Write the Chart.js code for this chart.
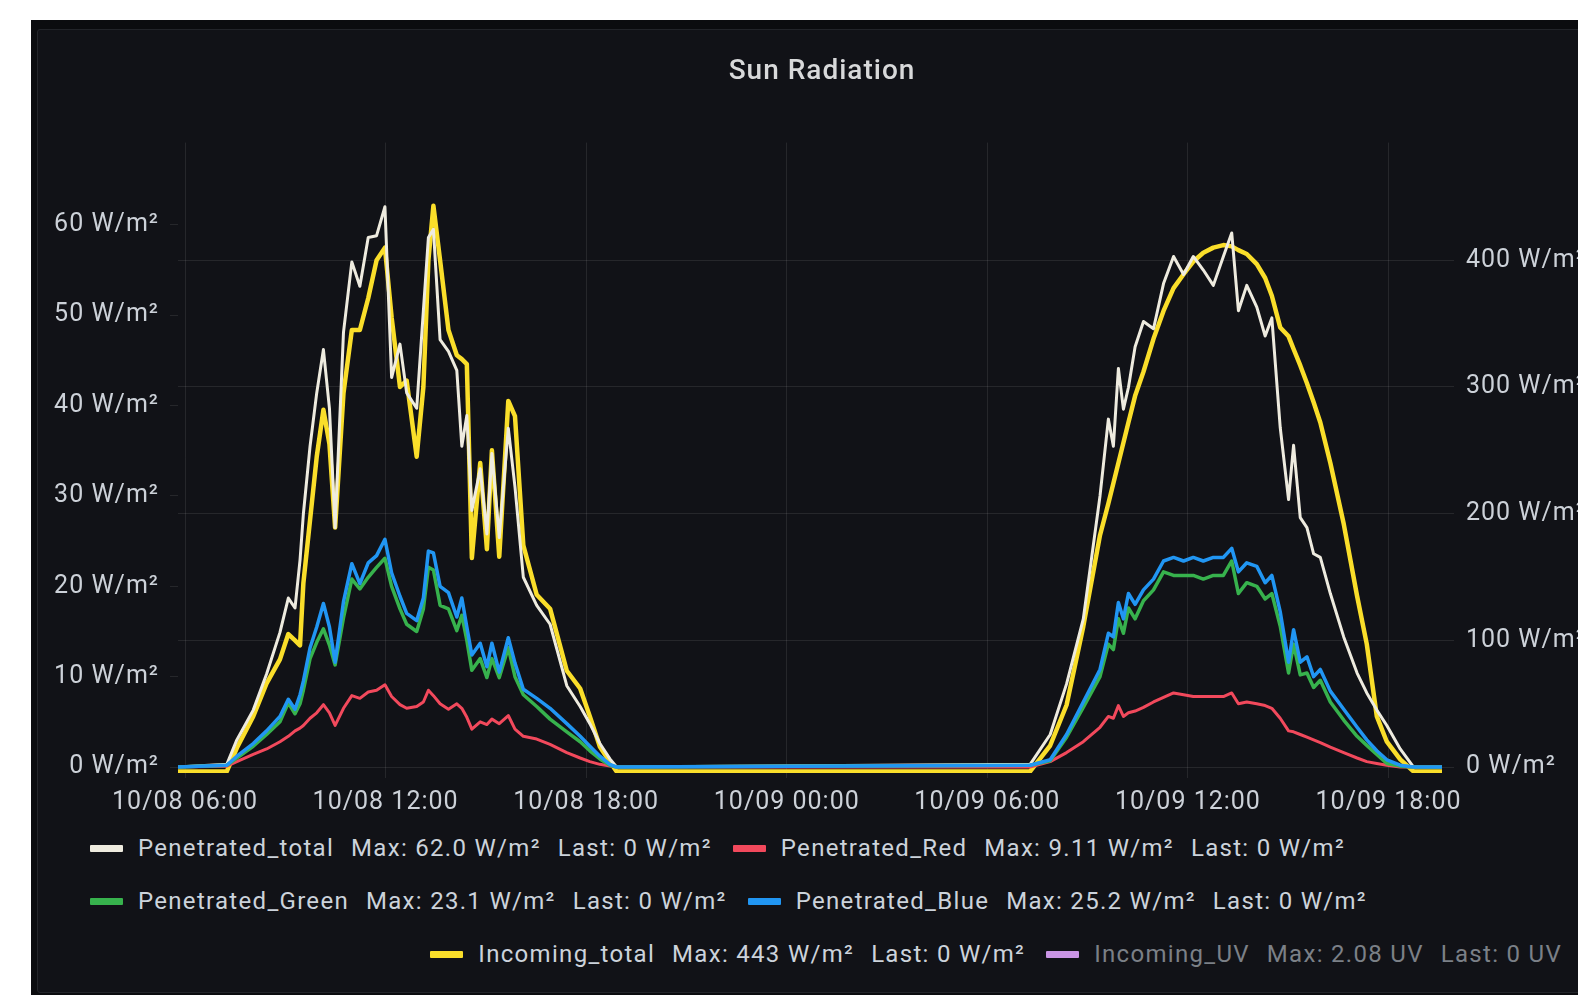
<!DOCTYPE html>
<html>
<head>
<meta charset="utf-8">
<script src="https://cdn.jsdelivr.net/npm/chart.js@4.4.1/dist/chart.umd.min.js"></script>
<style>
  html, body { margin: 0; padding: 0; }
  body { width: 1578px; height: 995px; overflow: hidden; background: #ffffff; position: relative; font-family: Roboto, sans-serif; }
  #frame { position: absolute; left: 31px; top: 20px; width: 1600px; height: 1000px; background: #0b0c0f; }
  #panel { position: absolute; left: 37px; top: 29px; width: 1620px; height: 964px; background: #111217; border: 1px solid #222429; border-radius: 3px; box-sizing: border-box; }
  #wrap { position: absolute; left: 37px; top: 29px; width: 1570px; height: 793px; }
  .lg-row { position: absolute; display: flex; align-items: center; height: 30px; line-height: 30px; font-size: 24px; letter-spacing: 1.3px; color: #ccd3db; white-space: nowrap; }
  .lg-item { display: flex; align-items: center; }
  .lg-item + .lg-item { margin-left: 21px; }
  .lg-sw { width: 33px; height: 7px; margin-right: 15px; border-radius: 1px; }
  .lg-val { margin-left: 17px; }
  .lg-off { color: #7b8087; }
</style>
</head>
<body>
<div id="frame"></div>
<div id="panel"></div>
<div id="wrap"><canvas id="chart"></canvas></div>
<div id="legend"></div>
<script>
// hours since 10/08 00:00
const times = [5.79,
  7.25, 7.55, 8.04, 8.44, 8.84, 9.09, 9.29, 9.44, 9.54, 9.74, 9.94, 10.14, 10.32, 10.49, 10.74, 10.99,
  11.23, 11.48, 11.73, 11.98, 12.18, 12.43, 12.63, 12.93, 13.13, 13.28, 13.43, 13.63, 13.88, 14.13,
  14.28, 14.43, 14.58, 14.83, 15.03, 15.18, 15.40, 15.67, 15.87, 16.12, 16.52, 16.92, 17.42, 17.82,
  18.11, 18.41, 18.71, 18.91,
  31.28, 31.88, 32.37, 32.87, 33.37, 33.62, 33.77, 33.92, 34.07, 34.22, 34.42, 34.67, 34.97, 35.27,
  35.57, 35.87, 36.16, 36.46, 36.76, 37.06, 37.31, 37.51, 37.76, 38.06, 38.31, 38.51, 38.76, 39.01,
  39.16, 39.36, 39.56, 39.76, 39.96, 40.26, 40.66, 41.06, 41.35, 41.65, 41.95, 42.35, 42.75,
  43.6];

const penTotal = [0,
  0.3, 3.0, 6.3, 10.3, 14.9, 18.7, 17.6, 22.9, 28.0, 35.5, 41.4, 46.2, 39.7, 26.5, 48.1, 55.9,
  53.2, 58.6, 58.8, 62.0, 43.1, 46.8, 41.4, 39.7, 50.5, 58.6, 59.5, 47.3, 46.0, 43.9,
  35.5, 38.9, 28.4, 33.0, 25.8, 34.7, 25.4, 37.5, 31.0, 21.0, 17.9, 15.8, 9.0, 6.7,
  4.8, 2.6, 0.9, 0,
  0.3, 3.6, 9.2, 16.4, 30.0, 38.5, 35.5, 44.1, 39.6, 42.0, 46.5, 49.3, 48.5, 53.5,
  56.5, 54.5, 56.5, 55.0, 53.3, 56.5, 59.1, 50.5, 53.3, 50.9, 47.7, 49.7, 37.6, 29.6,
  35.6, 27.6, 26.5, 23.6, 23.2, 19.2, 14.4, 10.4, 8.2, 6.3, 4.6, 2.0, 0,
  0];

const penRed = [0,
  0.1, 0.6, 1.4, 2.0, 2.8, 3.4, 4.0, 4.3, 4.6, 5.4, 6.0, 6.9, 6.0, 4.6, 6.5, 7.9,
  7.6, 8.3, 8.5, 9.11, 7.8, 6.9, 6.5, 6.7, 7.2, 8.5, 7.9, 7.0, 6.4, 7.0,
  6.5, 5.5, 4.2, 5.0, 4.7, 5.3, 4.8, 5.7, 4.2, 3.4, 3.1, 2.5, 1.6, 1.0,
  0.6, 0.3, 0.1, 0,
  0, 0.6, 1.6, 2.8, 4.4, 5.6, 5.4, 6.8, 5.6, 6.0, 6.2, 6.6, 7.2, 7.7,
  8.2, 8.0, 7.8, 7.8, 7.8, 7.8, 8.2, 7.0, 7.2, 7.0, 6.8, 6.5, 5.4, 4.0,
  3.9, 3.6, 3.3, 3.0, 2.7, 2.2, 1.6, 1.0, 0.6, 0.4, 0.2, 0, 0,
  0];

const penGreen = [0,
  0.2, 1.0, 2.3, 3.6, 5.0, 7.1, 5.9, 7.0, 8.5, 12.0, 13.8, 15.3, 13.5, 11.3, 16.5, 20.8,
  19.7, 21.0, 22.1, 23.1, 20.0, 17.5, 15.8, 15.0, 17.5, 22.1, 21.8, 17.9, 17.5, 15.1,
  16.8, 14.0, 10.7, 12.0, 9.9, 12.0, 9.9, 13.2, 10.0, 8.0, 6.7, 5.3, 3.9, 2.8,
  1.8, 0.9, 0.2, 0,
  0.2, 0.7, 3.3, 6.6, 10.0, 13.6, 13.0, 16.4, 14.8, 17.6, 16.4, 18.4, 19.6, 21.6,
  21.2, 21.2, 21.2, 20.8, 21.2, 21.2, 22.8, 19.2, 20.4, 20.0, 18.6, 19.2, 15.6, 10.4,
  13.6, 10.2, 10.4, 8.8, 9.6, 7.2, 5.2, 3.4, 2.4, 1.4, 0.4, 0.1, 0,
  0];

const penBlue = [0,
  0.2, 1.2, 2.6, 4.0, 5.6, 7.5, 6.4, 8.0, 9.5, 13.2, 15.5, 18.1, 15.5, 11.6, 18.3, 22.5,
  20.3, 22.6, 23.4, 25.2, 21.5, 18.9, 17.0, 16.2, 18.7, 23.9, 23.7, 20.0, 19.3, 16.6,
  18.7, 15.5, 12.4, 13.7, 11.1, 13.7, 10.5, 14.3, 11.5, 8.6, 7.6, 6.5, 4.8, 3.4,
  2.3, 1.2, 0.3, 0,
  0.2, 0.8, 3.6, 7.2, 10.8, 14.8, 14.4, 18.2, 16.4, 19.2, 18.0, 19.6, 20.8, 22.8,
  23.2, 22.8, 23.2, 22.8, 23.2, 23.2, 24.2, 21.6, 22.6, 22.2, 20.4, 21.2, 17.2, 11.6,
  15.2, 11.6, 12.2, 10.0, 10.8, 8.4, 6.4, 4.4, 3.0, 1.8, 0.8, 0.2, 0,
  0];

// right axis
const incTotal = [-3.5,
  -3.5, 15, 40, 66, 85, 105, 100, 96, 145, 195, 245, 282, 255, 189, 295, 345,
  345, 370, 400, 410, 355, 300, 305, 245, 300, 400, 443, 400, 345, 325,
  322, 318, 165, 240, 172, 250, 166, 289, 277, 175, 136, 125, 76, 62,
  40, 16, 4, -3.5,
  -3.5, 17, 49, 111, 183, 208, 224, 240, 256, 272, 293, 312, 338, 360,
  378, 389, 399, 406, 410, 412, 411, 408, 405, 397, 386, 372, 347, 340,
  330, 317, 303, 288, 272, 240, 192, 135, 97, 40, 20, 6, -3.5,
  -3.5];

const xTicks = [6, 12, 18, 24, 30, 36, 42];
const leftTicks = [0, 10, 20, 30, 40, 50, 60];
const rightTicks = [0, 100, 200, 300, 400];

const legendNames = ['Penetrated_total', 'Penetrated_Red', 'Penetrated_Green', 'Penetrated_Blue', 'Incoming_total', 'Incoming_UV'];
const legendColors = ['#eeebdf', '#f2495c', '#37b24d', '#2196f3', '#fade2a', '#ca95e5'];
const legendMax = ['62.0 W/m²', '9.11 W/m²', '23.1 W/m²', '25.2 W/m²', '443 W/m²', '2.08 UV'];
const legendLast = ['0 W/m²', '0 W/m²', '0 W/m²', '0 W/m²', '0 W/m²', '0 UV'];
const legendHidden = [false, false, false, false, false, true];

function pts(vals) {
  return vals.map((v, i) => ({ x: times[i], y: v }));
}

function fmtTime(h) {
  const day = h < 24 ? '10/08' : '10/09';
  return day + ' ' + String(h % 24).padStart(2, '0') + ':00';
}

const tickColor = '#ccd1d8';
const gridColor = 'rgba(255,255,255,0.09)';
const tickFont = { family: 'Roboto', size: 25 };

// the screenshot's text runs a little wider than plain Roboto
const spacing = {
  id: 'spacing',
  beforeUpdate(chart) { chart.ctx.letterSpacing = '1px'; },
  beforeDraw(chart) { chart.ctx.letterSpacing = '1px'; }
};

new Chart(document.getElementById('chart'), {
  type: 'line',
  plugins: [spacing],
  data: {
    datasets: [
      { label: legendNames[0], data: pts(penTotal), borderColor: legendColors[0], borderWidth: 3, yAxisID: 'y', order: 3 },
      { label: legendNames[1], data: pts(penRed), borderColor: legendColors[1], borderWidth: 3, yAxisID: 'y', order: 2 },
      { label: legendNames[2], data: pts(penGreen), borderColor: legendColors[2], borderWidth: 3.5, yAxisID: 'y', order: 1 },
      { label: legendNames[3], data: pts(penBlue), borderColor: legendColors[3], borderWidth: 3.5, yAxisID: 'y', order: 0 },
      { label: legendNames[4], data: pts(incTotal), borderColor: legendColors[4], borderWidth: 4.5, yAxisID: 'y2', order: 4 }
    ]
  },
  options: {
    responsive: true,
    maintainAspectRatio: false,
    animation: false,
    devicePixelRatio: 1,
    elements: { point: { radius: 0 }, line: { tension: 0, borderJoinStyle: 'round' } },
    layout: { padding: 0 },
    plugins: {
      legend: { display: false },
      tooltip: { enabled: false },
      title: {
        display: true,
        text: 'Sun Radiation',
        color: '#d8d9da',
        font: { family: 'Roboto', size: 28, weight: '500' },
        padding: { top: 26, bottom: 54 }
      }
    },
    scales: {
      x: {
        type: 'linear',
        min: 5.79,
        max: 43.6,
        afterBuildTicks: axis => { axis.ticks = xTicks.map(v => ({ value: v })); },
        afterFit: axis => { axis.height = 49; },
        ticks: { color: tickColor, font: tickFont, padding: 10, maxRotation: 0, autoSkip: false, callback: v => fmtTime(v) },
        grid: { color: gridColor, tickLength: 5 },
        border: { display: false }
      },
      y: {
        position: 'left',
        min: -0.66,
        max: 69.1,
        afterBuildTicks: axis => { axis.ticks = leftTicks.map(v => ({ value: v })); },
        afterFit: axis => { axis.width = 141; },
        ticks: { color: tickColor, font: tickFont, padding: 11, callback: v => v + ' W/m²' },
        grid: { drawOnChartArea: false, color: gridColor, tickLength: 8 },
        border: { display: false }
      },
      y2: {
        position: 'right',
        min: -4.7,
        max: 492.9,
        afterBuildTicks: axis => { axis.ticks = rightTicks.map(v => ({ value: v })); },
        afterFit: axis => { axis.width = 165; },
        ticks: { color: tickColor, font: tickFont, padding: 12, callback: v => v + ' W/m²' },
        grid: { color: gridColor, tickLength: 12 },
        border: { display: false }
      }
    }
  }
});

// legend in the Grafana layout: left-axis series left, right-axis series floated right
function legendItem(i) {
  const off = legendHidden[i] ? ' lg-off' : '';
  return '<div class="lg-item' + off + '"><div class="lg-sw" style="background:' + legendColors[i] + '"></div>' +
    '<span>' + legendNames[i] + '</span>' +
    '<span class="lg-val">Max: ' + legendMax[i] + '</span>' +
    '<span class="lg-val">Last: ' + legendLast[i] + '</span></div>';
}
const rows = [
  { items: [0, 1], top: 833, left: 90 },
  { items: [2, 3], top: 886, left: 90 },
  { items: [4, 5], top: 939, right: 16 }
];
document.getElementById('legend').innerHTML = rows.map(r => {
  const pos = r.left !== undefined ? 'left:' + r.left + 'px;' : 'right:' + r.right + 'px;';
  return '<div class="lg-row" style="top:' + r.top + 'px;' + pos + '">' + r.items.map(legendItem).join('') + '</div>';
}).join('');
</script>
</body>
</html>
